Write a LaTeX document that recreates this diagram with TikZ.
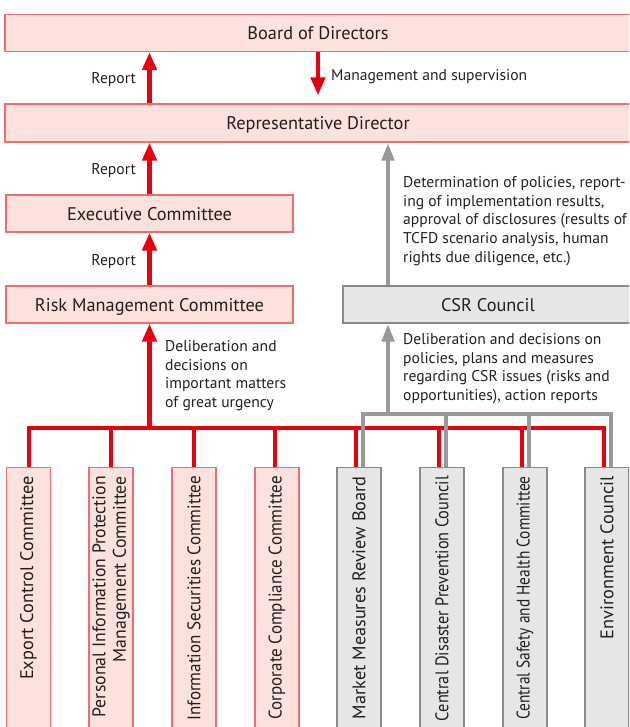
\documentclass[tikz,border=0pt]{standalone}
\usepackage{fontspec}
\setmainfont{PT Sans}
\usetikzlibrary{arrows.meta}
\definecolor{cred}{HTML}{E60012}
\definecolor{credfill}{HTML}{FCE1DC}
\definecolor{credborder}{HTML}{EC6D74}
\definecolor{cgray}{HTML}{999999}
\definecolor{cgrayfill}{HTML}{E6E6E6}
\definecolor{cgrayborder}{HTML}{8A8A8A}
\definecolor{ctext}{HTML}{231F20}
\newcommand\hsq[2]{\scalebox{#1}[1]{#2}}
\begin{document}
\begin{tikzpicture}[x=1pt,y=-1pt,
  boxfont/.style={font=\fontsize{18.3}{20}\selectfont},
  redbox/.style={draw=credborder, fill=credfill, line width=1.2pt, inner sep=0pt, text=ctext, boxfont, text height=13pt, text depth=0pt},
  graybox/.style={draw=cgrayborder, fill=cgrayfill, line width=1.2pt, inner sep=0pt, text=ctext, boxfont, text height=13pt, text depth=0pt},
  lbl/.style={text=ctext, font=\fontsize{15.6}{18.8}\selectfont, inner sep=0pt, align=left},
  redarrow/.style={draw=cred, line width=4.5pt, -{Triangle[width=14pt,length=18pt]}},
  grayarrow/.style={draw=cgray, line width=4.5pt, -{Triangle[width=12pt,length=18pt]}},
  redline/.style={draw=cred, line width=4pt},
  grayline/.style={draw=cgray, line width=4pt},
  vtext/.style={rotate=90, anchor=east, inner sep=0pt, align=right, text=ctext, font=\fontsize{18.3}{20.5}\selectfont},
  bottombox/.style={minimum width=44pt, minimum height=290pt, anchor=north}
]
\useasboundingbox (0,0) rectangle (629,727);
\clip (0,0) rectangle (629,727);

% top boxes
\node[redbox, minimum width=626pt, minimum height=37pt] (board) at (318,33) {Board of Directors};
\node[redbox, minimum width=626pt, minimum height=38pt] (rep) at (318,123) {Representative Director};
\node[redbox, minimum width=287pt, minimum height=37pt] (exec) at (149.5,213.5) {Executive Committee};
\node[redbox, minimum width=287pt, minimum height=37pt] (risk) at (149.5,304.5) {Risk Management Committee};
\node[graybox, minimum width=290pt, minimum height=37pt] (csr) at (488,304.5) {CSR Council};

% bottom boxes
\node[redbox, bottombox] (b1) at (28.5,467) {};
\node[redbox, bottombox] (b2) at (111,467) {};
\node[redbox, bottombox] (b3) at (194,467) {};
\node[redbox, bottombox] (b4) at (277,467) {};
\node[graybox, bottombox] (b5) at (359,467) {};
\node[graybox, bottombox] (b6) at (442,467) {};
\node[graybox, bottombox] (b7) at (525,467) {};
\node[graybox, bottombox] (b8) at (607,467) {};

\node[vtext] (t1) at (28.5,476) {Export Control Committee};
\node[vtext] (t2) at (111,476) {\hsq{0.97}{Personal Information Protection}\\\hsq{0.97}{Management Committee}};
\node[vtext] (t3) at (194,476) {\hsq{0.93}{Information Securities Committee}};
\node[vtext] (t4) at (277,476) {\hsq{0.93}{Corporate Compliance Committee}};
\node[vtext] (t5) at (359,476) {Market Measures Review Board};
\node[vtext] (t6) at (442,476) {\hsq{0.89}{Central Disaster Prevention Council}};
\node[vtext] (t7) at (525,476) {\hsq{0.84}{Central Safety and Health Committee}};
\node[vtext] (t8) at (607,476) {Environment Council};

% bus coordinates
\coordinate (rbus) at (0,428);
\coordinate (gbus) at (0,414);
\coordinate (r1) at (28.5,467);
\coordinate (r2) at (111,467);
\coordinate (r3) at (194,467);
\coordinate (r4) at (275,467);
\coordinate (r5) at (355.5,467);
\coordinate (r6) at (438.5,467);
\coordinate (r7) at (521.5,467);
\coordinate (r8) at (603.5,467);
\coordinate (g5) at (362.5,467);
\coordinate (g6) at (445.5,467);
\coordinate (g7) at (528.5,467);
\coordinate (g8) at (610.5,467);
\coordinate (gx) at (388,0);

% red bus
\draw[redline] (r1) -- (r1 |- rbus) -- (r8 |- rbus) -- (r8);
\foreach \c in {r2,r3,r4,r5,r6,r7} \draw[redline] (\c) -- (\c |- rbus);
\draw[redarrow] (exec.north |- rbus) -- (risk.south);

% gray bus
\draw[grayline] (g5) -- (g5 |- gbus) -- (g8 |- gbus) -- (g8);
\foreach \c in {g6,g7} \draw[grayline] (\c) -- (\c |- gbus);
\draw[grayarrow] (gx |- gbus) -- (gx |- csr.south);
\draw[grayarrow] (gx |- csr.north) -- (gx |- rep.south);

% red arrows
\draw[redarrow] (exec.north |- rep.north) -- (exec.north |- board.south);
\draw[redarrow] (board.south) -- ([yshift=8pt]rep.north);
\draw[redarrow] (exec.north) -- (exec.north |- rep.south);
\draw[redarrow] (risk.north) -- (exec.south);

% labels
\node[lbl, anchor=east] (l1) at (136,80) {Report};
\node[lbl, anchor=west] (l2) at (331,77) {Management and supervision};
\node[lbl, anchor=east] (l3) at (136,171) {Report};
\node[lbl, anchor=east] (l4) at (136,262) {Report};
\node[lbl, anchor=north west] (l5) at (403,176) {Determination of policies, report-\\ing of implementation results,\\approval of disclosures (results of\\TCFD scenario analysis, human\\rights due diligence, etc.)};
\node[lbl, anchor=north west] (l6) at (165,340) {Deliberation and\\decisions on\\important matters\\of great urgency};
\node[lbl, anchor=north west] (l7) at (403,333) {Deliberation and decisions on\\policies, plans and measures\\regarding CSR issues (risks and\\opportunities), action reports};
\end{tikzpicture}
\end{document}
